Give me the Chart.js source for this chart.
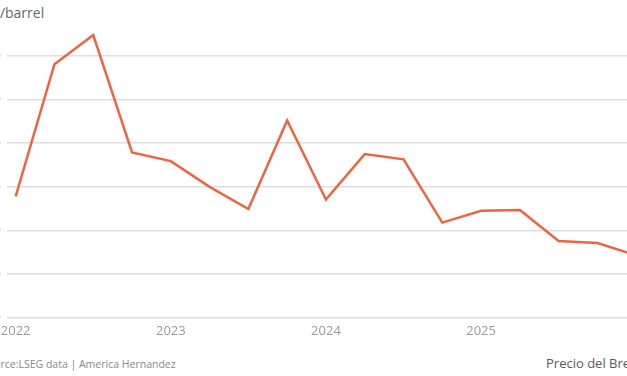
<!DOCTYPE html>
<html>
<head>
<meta charset="utf-8">
<script src="https://cdn.jsdelivr.net/npm/chart.js@4/dist/chart.umd.min.js"></script>
<style>
	html, body { margin: 0; padding: 0; background: #fff; }
	body { width: 627px; height: 376px; position: relative; overflow: hidden; font-family: 'Open Sans', sans-serif; }
	#wrap { position: absolute; left: -40px; top: 0; width: 715px; height: 345px; }
	.unit { position: absolute; left: -26px; top: 3px; font-size: 14px; color: #666; line-height: 20px; }
	.source { position: absolute; left: -18px; top: 356px; font-size: 10.5px; color: #888; line-height: 16px; white-space: nowrap; }
	.legend { position: absolute; left: 546px; top: 354px; font-size: 13px; color: #5a5a5a; line-height: 18px; white-space: nowrap; }
</style>
</head>
<body>
<div class="unit">US$/barrel</div>
<div id="wrap"><canvas id="brent" width="715" height="345"></canvas></div>
<div class="source">Source:LSEG data | America Hernandez</div>
<div class="legend">Precio del Brent</div>
<script>
// quarter-end Brent close
const quarters = ['2021-12', '2022-03', '2022-06', '2022-09', '2022-12', '2023-03', '2023-06', '2023-09', '2023-12',
	'2024-03', '2024-06', '2024-09', '2024-12', '2025-03', '2025-06', '2025-09', '2025-12'];
const brent = [77.8, 108.1, 114.8, 87.9, 85.9, 80.0, 74.9, 95.2, 77.1, 87.5, 86.3, 71.8, 74.5, 74.7, 67.6, 67.1, 64.3];
const yearLabels = ['2022', '2023', '2024', '2025'];
const yearIndex = [0, 4, 8, 12];
const yTicks = [50, 60, 70, 80, 90, 100, 110];

const ctx = document.getElementById('brent').getContext('2d');
new Chart(ctx, {
	type: 'line',
	data: {
		datasets: [
			{
				label: 'Precio del Brent',
				data: brent.map((v, i) => ({ x: i, y: v })),
				borderColor: '#ef6440',
				borderWidth: 2.5,
				pointRadius: 0,
				tension: 0,
				clip: false,
			},
		],
	},
	options: {
		responsive: false,
		animation: false,
		layout: { padding: { top: 29.8, left: 0, right: 0, bottom: 0 } },
		plugins: { legend: { display: false }, tooltip: { enabled: false } },
		scales: {
			x: {
				type: 'linear',
				min: -0.224,
				max: 17,
				afterBuildTicks: s => { s.ticks = yearIndex.map(v => ({ value: v })) },
				afterFit: s => { s.height = 345 - 317.7 },
				ticks: {
					callback: v => yearLabels[yearIndex.indexOf(v)],
					color: '#9a9a9a',
					font: { family: 'Open Sans', size: 13 },
					padding: 6,
					maxRotation: 0,
				},
				grid: { display: false, drawTicks: false },
				border: { display: false },
			},
			y: {
				min: 50,
				max: 116,
				afterBuildTicks: s => { s.ticks = yTicks.map(v => ({ value: v })) },
				afterFit: s => { s.width = 47 },
				ticks: {
					color: '#9a9a9a',
					font: { family: 'Open Sans', size: 13 },
					padding: 6,
				},
				grid: { color: '#dedede', lineWidth: 1.5, drawTicks: false },
				border: { display: false },
			},
		},
	},
})
</script>
</body>
</html>
